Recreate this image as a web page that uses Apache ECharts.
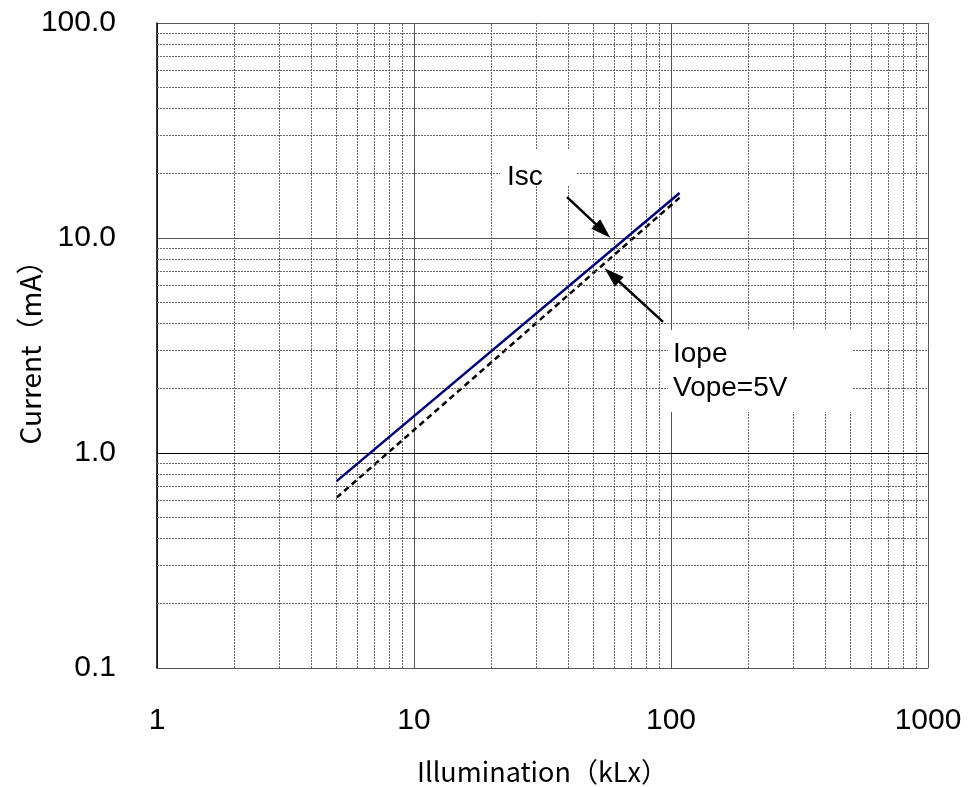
<!DOCTYPE html>
<html>
<head>
<meta charset="utf-8">
<script src="https://cdn.jsdelivr.net/npm/echarts@6/dist/echarts.min.js"></script>
<style>
  html, body { margin: 0; padding: 0; background: #fff; }
  #chart { width: 968px; height: 787px; }
</style>
</head>
<body>
<div id="chart"></div>
<script>
// data (log-log, two straight lines)
const iscData = [[5, 0.74], [108, 16.2]];
const iopeData = [[5, 0.62], [108, 15.4]];

// minor grid values (2..9 in each decade)
const xMinor = [2, 3, 4, 5, 6, 7, 8, 9, 20, 30, 40, 50, 60, 70, 80, 90, 200, 300, 400, 500, 600, 700, 800, 900];
const yMinor = [0.2, 0.3, 0.4, 0.5, 0.6, 0.7, 0.8, 0.9, 2, 3, 4, 5, 6, 7, 8, 9, 20, 30, 40, 50, 60, 70, 80, 90];

// annotation arrows in data coords: [from, to]
const iscArrow = [[39.4, 15.5], [54.4, 10.8]];
const iopeArrow = [[93.1, 4.07], [58.9, 6.73]];

const chart = echarts.init(document.getElementById("chart"), null, { renderer: "canvas" });

const minorStyle = { color: "#666", width: 1, type: [2, 1] };

const option = {
  backgroundColor: "#fff",
  animation: false,
  grid: { left: 157, top: 23, right: 40, bottom: 119, outerBoundsMode: "none" },
  xAxis: {
    type: "log",
    logBase: 10,
    min: 1,
    max: 1000,
    name: "Illumination（kLx）",
    nameLocation: "middle",
    nameGap: 90,
    nameMoveOverlap: false,
    nameTextStyle: { fontFamily: "Noto Sans CJK JP", fontSize: 27, color: "#000" },
    axisLine: { show: true, lineStyle: { color: "#555", width: 1 } },
    axisTick: { show: false },
    axisLabel: {
      margin: 38,
      fontFamily: "Liberation Sans",
      fontSize: 30,
      color: "#000",
      formatter: (v) => String(Math.round(v)),
    },
    splitLine: { show: true, lineStyle: { color: "#555", width: 1 } },
  },
  yAxis: {
    type: "log",
    logBase: 10,
    min: 0.1,
    max: 100,
    name: "Current（mA）",
    nameLocation: "middle",
    nameRotate: 90,
    nameGap: 113,
    nameMoveOverlap: false,
    nameTextStyle: { fontFamily: "Noto Sans CJK JP", fontSize: 28, color: "#000" },
    axisLine: { show: true, lineStyle: { color: "#000", width: 1.5 } },
    axisTick: { show: false },
    axisLabel: {
      margin: 41,
      fontFamily: "Liberation Sans",
      fontSize: 30,
      color: "#000",
      formatter: (v) => Number(v).toFixed(1),
    },
    splitLine: { show: true, lineStyle: { color: "#555", width: 1 } },
  },
  series: [
    {
      name: "grid",
      type: "line",
      data: [],
      silent: true,
      z: 1,
      markLine: {
        silent: true,
        symbol: "none",
        label: { show: false },
        lineStyle: minorStyle,
        data: [
          ...xMinor.map((v) => ({ xAxis: v })),
          ...yMinor.map((v) => ({ yAxis: v })),
          { yAxis: 1, lineStyle: { color: "#000", width: 1, type: "solid" } },
        ],
      },
    },
    {
      name: "Isc",
      type: "line",
      data: iscData,
      symbol: "none",
      z: 5,
      lineStyle: { color: "#000080", width: 2.5 },
      markLine: {
        silent: true,
        symbol: ["none", "triangle"],
        symbolSize: [13, 20],
        label: { show: false },
        lineStyle: { color: "#000", width: 2.5, type: "solid" },
        data: [
          [{ coord: iscArrow[0] }, { coord: iscArrow[1] }],
          [{ coord: iopeArrow[0] }, { coord: iopeArrow[1] }],
        ],
      },
    },
    {
      name: "Iope",
      type: "line",
      data: iopeData,
      symbol: "none",
      z: 4,
      lineStyle: { color: "#000", width: 2.5, type: [6, 4] },
    },
  ],
  graphic: [
    { type: "rect", z: 50, shape: { x: 500, y: 150, width: 77, height: 36 }, style: { fill: "#fff" } },
    { type: "rect", z: 50, shape: { x: 668, y: 330, width: 185, height: 82 }, style: { fill: "#fff" } },
    {
      type: "text", z: 60, left: 507, top: 163,
      style: { text: "Isc", fontFamily: "Liberation Sans", fontSize: 28, fill: "#000" },
    },
    {
      type: "text", z: 60, left: 673, top: 337,
      style: { text: "Iope\nVope=5V", fontFamily: "Liberation Sans", fontSize: 28, lineHeight: 34, fill: "#000" },
    },
  ],
};

chart.setOption(option);
</script>
</body>
</html>
